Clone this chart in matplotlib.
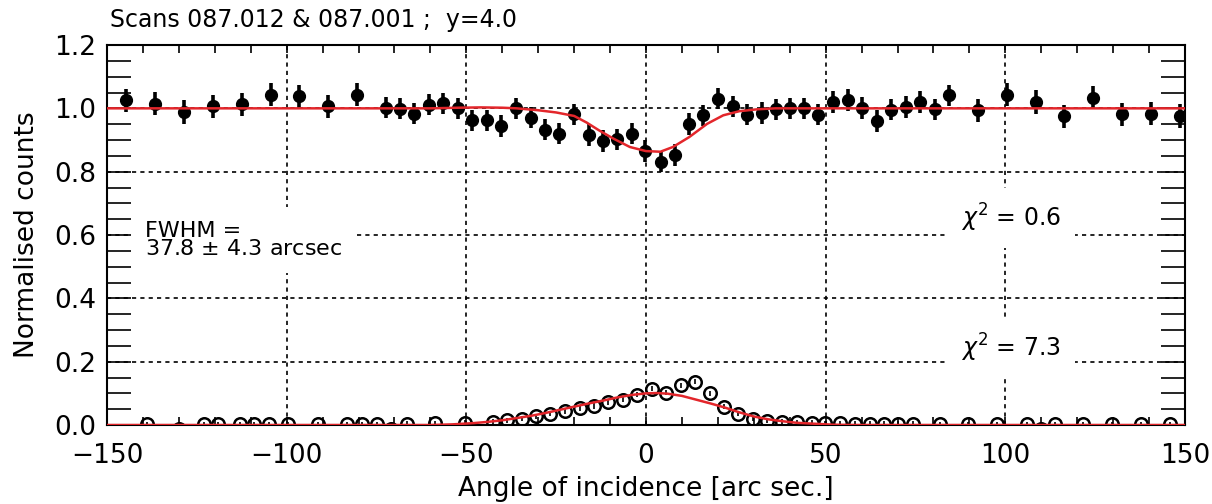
import numpy as np
import matplotlib
matplotlib.use('Agg')
import matplotlib.pyplot as plt
from matplotlib.ticker import MultipleLocator, FormatStrFormatter

# transmission scan (filled points)
scan_x = [-144.7, -136.6, -128.7, -120.4, -112.5, -104.4, -96.5, -88.4, -80.3,
          -72.4, -68.5, -64.5, -60.3, -56.4, -52.2, -48.3, -44.3, -40.3, -36.2,
          -32.1, -28.1, -24.1, -20.1, -16.0, -12.0, -8.0, -4.0, -0.3, 4.1, 8.1,
          12.1, 16.0, 20.1, 24.1, 28.0, 32.2, 36.2, 40.1, 44.1, 48.0, 52.1, 56.3,
          60.2, 64.2, 68.2, 72.3, 76.3, 80.3, 84.3,
          92.5, 100.4, 108.5, 116.4, 124.5, 132.6, 140.6, 148.6]
scan_y = [1.025, 1.015, 0.988, 1.006, 1.013, 1.043, 1.038, 1.006, 1.043,
          1.002, 0.999, 0.983, 1.012, 1.016, 1.000, 0.962, 0.962, 0.944, 1.000,
          0.971, 0.933, 0.920, 0.981, 0.915, 0.897, 0.902, 0.920, 0.865, 0.832, 0.853,
          0.951, 0.978, 1.031, 1.006, 0.980, 0.986, 0.997, 1.000, 1.000, 0.980, 1.020, 1.027,
          1.001, 0.960, 0.996, 1.004, 1.020, 0.997, 1.041,
          0.994, 1.043, 1.020, 0.975, 1.034, 0.981, 0.983, 0.976]
scan_err = [0.037] * 9 + [0.034] * 40 + [0.037] * 8

# fitted dip
fit_x = [-150, -60, -52, -46, -40, -36, -30, -25, -20, -16.5, -13, -9, -4.5,
         0, 4, 7.5, 12, 17, 21.5, 26, 31, 36, 150]
fit_y = [1.0, 1.0, 1.002, 1.003, 1.002, 1.0, 0.994, 0.987, 0.976, 0.955, 0.930,
         0.904, 0.878, 0.865, 0.863, 0.878, 0.909, 0.951, 0.978, 0.991, 0.997, 1.0, 1.0]

# second quantity (open points)
low_x = [-139.0, -130.0, -123.0, -119.0, -113.0, -109.0, -105.0, -99.5, -91.3,
         -83.3, -79.0, -74.8, -70.9, -66.6, -58.7, -50.4,
         -42.5, -38.6, -34.6, -30.6, -26.7, -22.5, -18.5, -14.4, -10.5, -6.4,
         -2.4, 1.6, 5.7, 9.8, 13.6, 17.8, 21.8, 25.7, 29.9, 33.6, 37.8, 42.0,
         46.1, 49.8, 54.0, 58.2, 62.4, 66.1, 70.2, 74.2,
         81.8, 89.7, 97.8, 106.0, 110.0, 113.8, 121.7, 129.6, 137.7, 145.8]
low_y = [0.003, -0.012, 0.003, 0.003, 0.003, 0.003, 0.003, 0.003, 0.003,
         0.003, 0.003, 0.003, -0.012, 0.004, 0.005, 0.007,
         0.010, 0.015, 0.020, 0.028, 0.036, 0.043, 0.053, 0.060, 0.072, 0.080,
         0.095, 0.115, 0.102, 0.126, 0.136, 0.100, 0.058, 0.036, 0.020, 0.013, 0.010, 0.009,
         0.007, 0.006, 0.005, 0.004, 0.004, 0.004, 0.004, 0.004,
         0.003, 0.003, 0.003, 0.003, -0.012, 0.003, 0.003, 0.003, 0.003, 0.003]
low_err = [0.008] * len(low_x)
low_err[1] = 0.016
low_err[12] = 0.016
low_err[50] = 0.016

low_fit_x = [-150, -60, -54, -48, -44, -40, -36, -32, -28, -24, -20, -16, -12, -8,
             -4, 0, 3, 6, 10, 14, 18, 22, 26, 30, 34, 38, 42, 47, 52, 58, 150]
low_fit_y = [0, 0, 0.002, 0.006, 0.010, 0.015, 0.022, 0.029, 0.038, 0.048, 0.058,
             0.068, 0.077, 0.087, 0.095, 0.100, 0.101, 0.099, 0.092, 0.080, 0.068,
             0.055, 0.040, 0.027, 0.018, 0.012, 0.007, 0.004, 0.001, 0, 0]

red = '#e3262b'

fig = plt.figure(figsize=(12.12, 5.04), dpi=100)
ax = fig.add_axes([0.0883, 0.1567, 0.8894, 0.754])

for gy in [0.2, 0.4, 0.6, 0.8, 1.0]:
    ax.axhline(gy, color='k', lw=1.2, ls=(0, (2.5, 2.5)), zorder=1)
for gx in [-100, -50, 0, 50, 100]:
    ax.axvline(gx, color='k', lw=1.2, ls=(0, (2.5, 2.5)), zorder=1)

ax.plot(fit_x, fit_y, color=red, lw=1.8, zorder=5)
ax.plot(low_fit_x, low_fit_y, color=red, lw=1.8, zorder=5)

ax.errorbar(scan_x, scan_y, yerr=scan_err, fmt='o', color='k', ms=8.5,
            elinewidth=2.6, capsize=0, zorder=4)
ax.errorbar(low_x, low_y, yerr=low_err, fmt='o', mfc='none', mec='k', ms=9,
            mew=1.8, ecolor='k', elinewidth=1.2, capsize=0, zorder=4)

box = dict(fc='white', ec='none', pad=10)
ax.text(-139.5, 0.585, 'FWHM =\n37.8 $\\pm$ 4.3 arcsec', fontsize=16,
        va='center', ha='left', linespacing=0.9, bbox=box, zorder=3)
ax.text(101.5, 0.655, r'$\chi^2$ = 0.6', fontsize=17, ha='center', va='center',
        bbox=box, zorder=3)
ax.text(101.5, 0.245, r'$\chi^2$ = 7.3', fontsize=17, ha='center', va='center',
        bbox=box, zorder=3)

ax.set_xlim(-150, 150)
ax.set_ylim(0, 1.2)
ax.xaxis.set_major_locator(MultipleLocator(50))
ax.xaxis.set_minor_locator(MultipleLocator(10))
ax.yaxis.set_major_locator(MultipleLocator(0.2))
ax.yaxis.set_minor_locator(MultipleLocator(0.05))
ax.yaxis.set_major_formatter(FormatStrFormatter('%.1f'))

ax.tick_params(axis='x', which='both', direction='in', top=True, length=6,
               width=1.2, labelsize=19, pad=13)
ax.tick_params(axis='y', which='both', direction='in', right=True, length=17,
               width=1.2, labelsize=19, pad=8)
for s in ax.spines.values():
    s.set_linewidth(1.5)

ax.set_xlabel('Angle of incidence [arc sec.]', fontsize=19, labelpad=5)
ax.set_ylabel('Normalised counts', fontsize=19, labelpad=10)
fig.text(110 / 1212, 1 - 20 / 504, 'Scans 087.012 & 087.001 ;  y=4.0',
         fontsize=17, ha='left', va='center')

fig.savefig('out.png', dpi=100)
